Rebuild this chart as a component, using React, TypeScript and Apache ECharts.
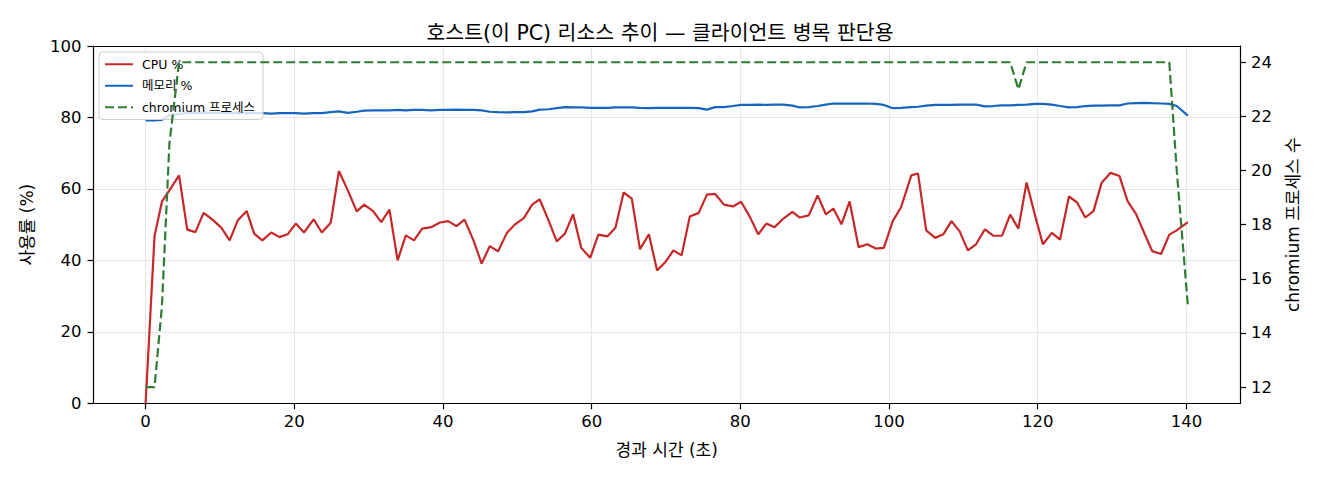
import React, { useEffect, useRef } from "react";
import * as echarts from "echarts";

const TITLE = "호스트(이 PC) 리소스 추이 — 클라이언트 병목 판단용";
const X_NAME = "경과 시간 (초)";
const Y_LEFT_NAME = "사용률 (%)";
const Y_RIGHT_NAME = "chromium 프로세스 수";
const SERIES_NAMES = ["CPU %", "메모리 %", "chromium 프로세스"];
const COLORS = ["#c62828", "#1565c0", "#2e7d32"];

const X_TICKS = [0, 20, 40, 60, 80, 100, 120, 140];
const Y_RIGHT_TICKS = [12, 14, 16, 18, 20, 22, 24];

const times = [
  0.0, 1.2, 2.2, 3.2, 4.5, 5.6, 6.7, 7.8, 9.0, 10.2,
  11.3, 12.4, 13.6, 14.6, 15.7, 16.9, 18.0, 19.1, 20.2, 21.3,
  22.6, 23.7, 24.9, 26.0, 27.2, 28.4, 29.4, 30.6, 31.7, 32.8,
  33.9, 35.0, 36.1, 37.2, 38.4, 39.6, 40.7, 41.8, 42.9, 44.1,
  45.2, 46.3, 47.4, 48.6, 49.7, 50.9, 52.0, 53.0, 54.2, 55.3,
  56.4, 57.5, 58.6, 59.8, 60.9, 62.1, 63.2, 64.3, 65.4, 66.5,
  67.7, 68.8, 69.9, 71.0, 72.1, 73.2, 74.4, 75.5, 76.6, 77.8,
  79.0, 80.1, 81.3, 82.4, 83.5, 84.6, 85.8, 87.0, 88.0, 89.2,
  90.4, 91.5, 92.5, 93.6, 94.7, 95.9, 97.1, 98.2, 99.3, 100.5,
  101.6, 103.0, 103.9, 105.0, 106.2, 107.3, 108.4, 109.5, 110.6, 111.7,
  112.9, 114.0, 115.2, 116.3, 117.4, 118.5, 119.7, 120.7, 121.9, 123.0,
  124.2, 125.3, 126.4, 127.5, 128.6, 129.8, 131.0, 132.1, 133.2, 134.3,
  135.4, 136.6, 137.7, 138.7, 140.2,
];

const cpu = [
  0, 46.8, 56.5, 59.6, 63.8, 48.6, 47.9, 53.3, 51.4, 49.1,
  45.6, 51.2, 53.8, 47.5, 45.6, 47.8, 46.5, 47.3, 50.3, 47.8,
  51.5, 47.8, 50.5, 65.0, 59.6, 53.7, 55.6, 53.8, 50.7, 54.2,
  40.0, 47.0, 45.6, 48.9, 49.3, 50.6, 51.0, 49.6, 51.4, 45.6,
  39.1, 44.0, 42.5, 47.7, 50.1, 51.9, 55.6, 57.1, 51.2, 45.3,
  47.5, 52.9, 43.5, 40.7, 47.2, 46.7, 49.1, 59.0, 57.3, 43.1,
  47.3, 37.2, 39.5, 42.8, 41.4, 52.3, 53.3, 58.4, 58.6, 55.6,
  55.1, 56.4, 52.1, 47.3, 50.3, 49.3, 51.7, 53.6, 52.0, 52.6,
  58.2, 52.9, 54.5, 50.1, 56.5, 43.7, 44.5, 43.3, 43.5, 51.0,
  54.8, 63.8, 64.3, 48.4, 46.3, 47.3, 51.0, 48.1, 42.8, 44.5,
  48.7, 46.9, 46.9, 52.8, 48.9, 61.8, 52.1, 44.5, 47.7, 45.8,
  57.9, 56.2, 52.0, 53.8, 61.7, 64.5, 63.6, 56.5, 53.1, 47.8,
  42.6, 41.8, 47.2, 48.4, 50.7,
];

const mem = [
  79.2, 79.2, 79.3, 80.7, 81.0, 81.2, 81.2, 81.2, 81.3, 81.3,
  81.2, 81.2, 81.3, 81.2, 81.2, 81.1, 81.2, 81.2, 81.2, 81.1,
  81.2, 81.2, 81.5, 81.7, 81.3, 81.6, 81.9, 82.0, 82.0, 82.0,
  82.1, 82.0, 82.1, 82.1, 82.0, 82.1, 82.1, 82.2, 82.1, 82.1,
  82.0, 81.6, 81.5, 81.4, 81.5, 81.5, 81.7, 82.2, 82.3, 82.6,
  82.9, 82.8, 82.8, 82.7, 82.7, 82.7, 82.8, 82.8, 82.8, 82.7,
  82.6, 82.7, 82.7, 82.7, 82.7, 82.7, 82.6, 82.2, 82.9, 82.9,
  83.2, 83.5, 83.5, 83.6, 83.5, 83.6, 83.6, 83.3, 82.8, 82.9,
  83.2, 83.6, 83.9, 83.9, 83.9, 83.9, 83.9, 83.8, 83.5, 82.6,
  82.7, 82.9, 83.0, 83.3, 83.5, 83.5, 83.5, 83.6, 83.6, 83.6,
  83.1, 83.2, 83.4, 83.4, 83.5, 83.6, 83.8, 83.8, 83.6, 83.2,
  82.8, 82.9, 83.2, 83.3, 83.3, 83.4, 83.4, 83.9, 84.0, 84.1,
  84.0, 83.9, 83.8, 83.2, 80.5,
];

const chromium = [
  12, 12, 15, 21, 24, 24, 24, 24, 24, 24,
  24, 24, 24, 24, 24, 24, 24, 24, 24, 24,
  24, 24, 24, 24, 24, 24, 24, 24, 24, 24,
  24, 24, 24, 24, 24, 24, 24, 24, 24, 24,
  24, 24, 24, 24, 24, 24, 24, 24, 24, 24,
  24, 24, 24, 24, 24, 24, 24, 24, 24, 24,
  24, 24, 24, 24, 24, 24, 24, 24, 24, 24,
  24, 24, 24, 24, 24, 24, 24, 24, 24, 24,
  24, 24, 24, 24, 24, 24, 24, 24, 24, 24,
  24, 24, 24, 24, 24, 24, 24, 24, 24, 24,
  24, 24, 24, 24, 23, 24, 24, 24, 24, 24,
  24, 24, 24, 24, 24, 24, 24, 24, 24, 24,
  24, 24, 24, 20, 15,
];

const FONT = "'DejaVu Sans', 'Noto Sans CJK KR', sans-serif";

export default function App() {
  const ref = useRef<HTMLDivElement>(null);

  useEffect(() => {
    if (!ref.current) return;
    const chart = echarts.init(ref.current, null, { renderer: "svg" });
    const pair = (vals: number[]) => times.map((t, i) => [t, vals[i]]);
    const tickText = { fontSize: 16.5, color: "#000", fontFamily: FONT };
    const nameText = { fontSize: 17, color: "#000", fontFamily: FONT };

    chart.setOption({
      animation: false,
      backgroundColor: "#ffffff",
      textStyle: { fontFamily: FONT },
      title: {
        text: TITLE,
        left: "center",
        top: 18,
        textStyle: { fontSize: 20.5, fontWeight: "normal", color: "#000", fontFamily: FONT },
      },
      grid: { left: 93.5, right: 80, top: 46, bottom: 76.7, containLabel: false },
      legend: {
        data: SERIES_NAMES,
        orient: "vertical",
        left: 99,
        top: 52,
        padding: [6, 8, 6, 5],
        itemWidth: 28,
        itemHeight: 14,
        itemGap: 9,
        itemStyle: { opacity: 0 },
        backgroundColor: "rgba(255,255,255,0.8)",
        borderColor: "#cccccc",
        borderWidth: 1,
        borderRadius: 4,
        textStyle: { fontSize: 12.5, color: "#000", fontFamily: FONT, padding: [0, 0, 0, 4] },
      },
      xAxis: [
        {
          type: "value",
          min: -7.01,
          max: 147.21,
          name: X_NAME,
          nameLocation: "middle",
          nameGap: 38,
          nameTextStyle: nameText,
          axisLine: { show: true, onZero: false, lineStyle: { color: "#000", width: 1.2 } },
          axisTick: { show: true, length: 6, lineStyle: { color: "#000", width: 1.2 }, customValues: X_TICKS },
          axisLabel: { ...tickText, margin: 10, customValues: X_TICKS },
          splitLine: { show: true, lineStyle: { color: "#e6e6e6", width: 1 } },
        },
        {
          type: "value",
          min: -7.01,
          max: 147.21,
          position: "top",
          axisLine: { show: true, onZero: false, lineStyle: { color: "#000", width: 1.2 } },
          axisTick: { show: false },
          axisLabel: { show: false },
          splitLine: { show: false },
        },
      ],
      yAxis: [
        {
          type: "value",
          min: 0,
          max: 100,
          interval: 20,
          position: "left",
          name: Y_LEFT_NAME,
          nameLocation: "middle",
          nameRotate: 90,
          nameGap: 58,
          nameTextStyle: nameText,
          axisLine: { show: true, onZero: false, lineStyle: { color: "#000", width: 1.2 } },
          axisTick: { show: true, length: 6, lineStyle: { color: "#000", width: 1.2 } },
          axisLabel: { ...tickText, margin: 12 },
          splitLine: { show: true, lineStyle: { color: "#e6e6e6", width: 1 } },
        },
        {
          type: "value",
          min: 11.4,
          max: 24.6,
          position: "right",
          name: Y_RIGHT_NAME,
          nameLocation: "middle",
          nameRotate: 90,
          nameGap: 44,
          nameTextStyle: nameText,
          axisLine: { show: true, onZero: false, lineStyle: { color: "#000", width: 1.2 } },
          axisTick: { show: true, length: 6, lineStyle: { color: "#000", width: 1.2 }, customValues: Y_RIGHT_TICKS },
          axisLabel: { ...tickText, margin: 11, customValues: Y_RIGHT_TICKS },
          splitLine: { show: false },
        },
      ],
      series: [
        {
          name: SERIES_NAMES[0],
          type: "line",
          data: pair(cpu),
          symbol: "none",
          z: 2,
          lineStyle: { color: COLORS[0], width: 2.2 },
          itemStyle: { color: COLORS[0] },
        },
        {
          name: SERIES_NAMES[1],
          type: "line",
          data: pair(mem),
          symbol: "none",
          z: 2,
          lineStyle: { color: COLORS[1], width: 2.2 },
          itemStyle: { color: COLORS[1] },
        },
        {
          name: SERIES_NAMES[2],
          type: "line",
          yAxisIndex: 1,
          data: pair(chromium),
          symbol: "none",
          z: 10,
          lineStyle: { color: COLORS[2], width: 2.2, type: [9, 4] },
          itemStyle: { color: COLORS[2] },
        },
      ],
    });

    return () => chart.dispose();
  }, []);

  return (
    <div
      ref={ref}
      style={{ position: "absolute", left: 0, top: 0, width: 1320, height: 480 }}
    />
  );
}
